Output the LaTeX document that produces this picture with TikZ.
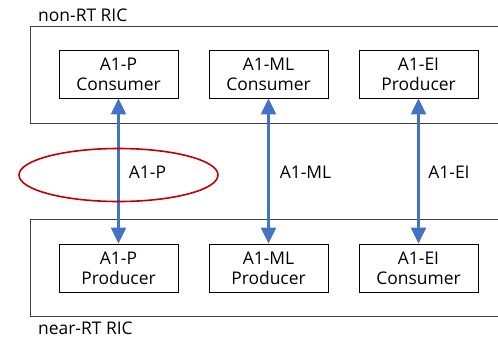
\documentclass[tikz,border=0pt]{standalone}
\usepackage{fontspec}
\setmainfont{Open Sans}
\usetikzlibrary{arrows.meta}
\definecolor{linkblue}{HTML}{4472C4}
\definecolor{markred}{HTML}{C00000}
\begin{document}
\begin{tikzpicture}[x=1bp,y=-1bp,
  font=\fontsize{17.5}{20}\selectfont,
  ricframe/.style={draw=black!75,line width=0.9bp},
  funcbox/.style={draw=black,line width=0.8bp,minimum width=119bp,minimum height=48bp,
    inner sep=0pt,align=center},
  link/.style={draw=linkblue,line width=2.2bp,
    {Triangle[length=16bp,width=15bp]}-{Triangle[length=16bp,width=15bp]}},
  linklabel/.style={inner sep=0pt,anchor=center},
  riclabel/.style={inner sep=0pt,anchor=west}]
\useasboundingbox (0,0) rectangle (498,338);

% RIC frames (open to the right)
\draw[ricframe] (498,26) -- (30,26) -- (30,123) -- (498,123);
\draw[ricframe] (498,219) -- (30,219) -- (30,316) -- (498,316);
\node[riclabel] (nonrt) at (38,15) {non-RT RIC};
\node[riclabel] (nearrt) at (38,328) {near-RT RIC};

% non-RT RIC functions
\node[funcbox] (pcons) at (118.5,74) {A1-P\\Consumer};
\node[funcbox] (mlcons) at (268.5,74) {A1-ML\\Consumer};
\node[funcbox] (eiprod) at (418.5,74) {A1-EI\\Producer};

% near-RT RIC functions
\node[funcbox] (pprod) at (118.5,268) {A1-P\\Producer};
\node[funcbox] (mlprod) at (268.5,268) {A1-ML\\Producer};
\node[funcbox] (eicons) at (418.5,268) {A1-EI\\Consumer};

% A1 interfaces
\draw[link] (pcons) -- (pprod);
\draw[link] (mlcons) -- (mlprod);
\draw[link] (eiprod) -- (eicons);

\node[linklabel] (lp) at (147.5,172) {A1-P};
\node[linklabel] (lml) at (305.5,172) {A1-ML};
\node[linklabel] (lei) at (449,172) {A1-EI};

% highlight of the A1-P interface
\draw[markred,line width=1.6bp] (118.5,175) ellipse [x radius=99.5bp,y radius=26.5bp];
\end{tikzpicture}
\end{document}
